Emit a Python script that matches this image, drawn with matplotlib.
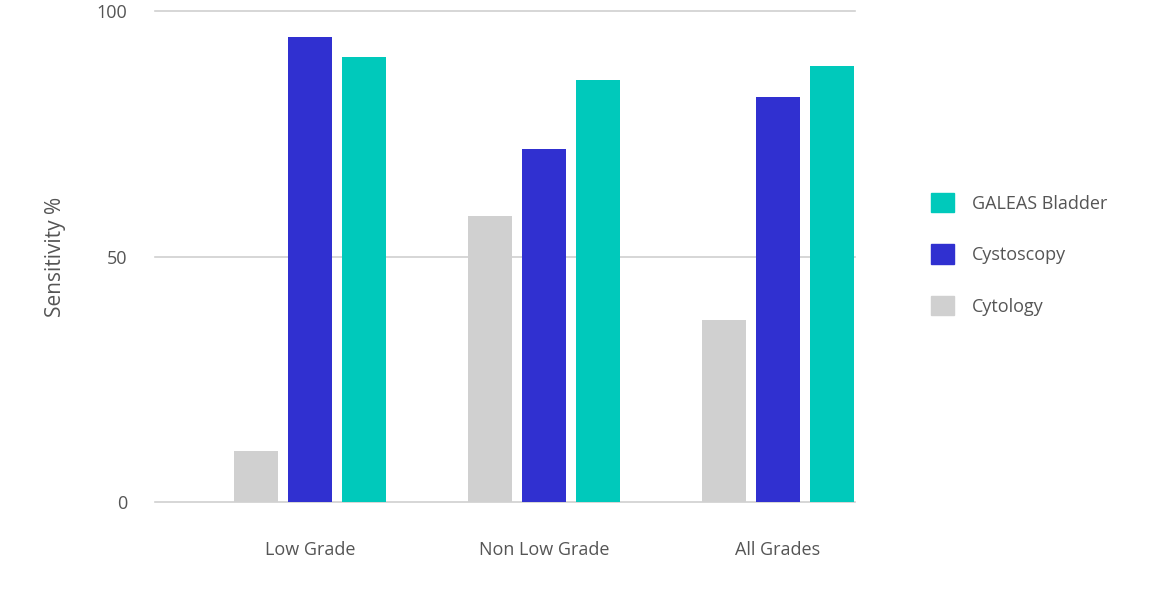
import matplotlib.pyplot as plt
import numpy as np
from matplotlib.patches import Patch

plt.rcParams['font.family'] = 'Open Sans'

categories = ['Low Grade', 'Non Low Grade', 'All Grades']
cytology = [10.4, 58.2, 37.1]
cystoscopy = [94.7, 71.9, 82.5]
galeas = [90.6, 85.9, 88.8]

c_cyto = '#d0d0d0'
c_cysto = '#3030d0'
c_gal = '#00c9bb'

fig = plt.figure(figsize=(11.5, 5.98), dpi=100)
ax = fig.add_axes([0.1348, 0.1605, 0.6087, 0.821])

x = np.arange(len(categories))
w = 0.188
off = 0.231
ax.bar(x - off, cytology, w, color=c_cyto, zorder=3)
ax.bar(x, cystoscopy, w, color=c_cysto, zorder=3)
ax.bar(x + off, galeas, w, color=c_gal, zorder=3)

ax.set_xlim(-0.662, 2.33)
ax.set_ylim(0, 100)
ax.set_yticks([0, 50, 100])
ax.yaxis.grid(True, color='#d0d0d0', linewidth=1.2, zorder=0)
for g in ax.get_ygridlines():
    g.set_clip_on(False)
ax.set_xticks(x)
ax.set_xticklabels(categories)
ax.tick_params(length=0, labelsize=13, colors='#555555')
ax.tick_params(axis='x', pad=28)
ax.tick_params(axis='y', pad=20)
for s in ax.spines.values():
    s.set_visible(False)
ax.set_ylabel('Sensitivity %', fontsize=15, color='#555555', labelpad=22)

handles = [Patch(color=c_gal), Patch(color=c_cysto), Patch(color=c_cyto)]
fig.legend(handles, ['GALEAS Bladder', 'Cystoscopy', 'Cytology'],
           loc='center left', bbox_to_anchor=(0.795, 0.575), frameon=False,
           fontsize=13, labelcolor='#555555', handlelength=1.3, handleheight=1.3,
           labelspacing=1.75, handletextpad=1.0)

fig.savefig('out.png', dpi=100)
